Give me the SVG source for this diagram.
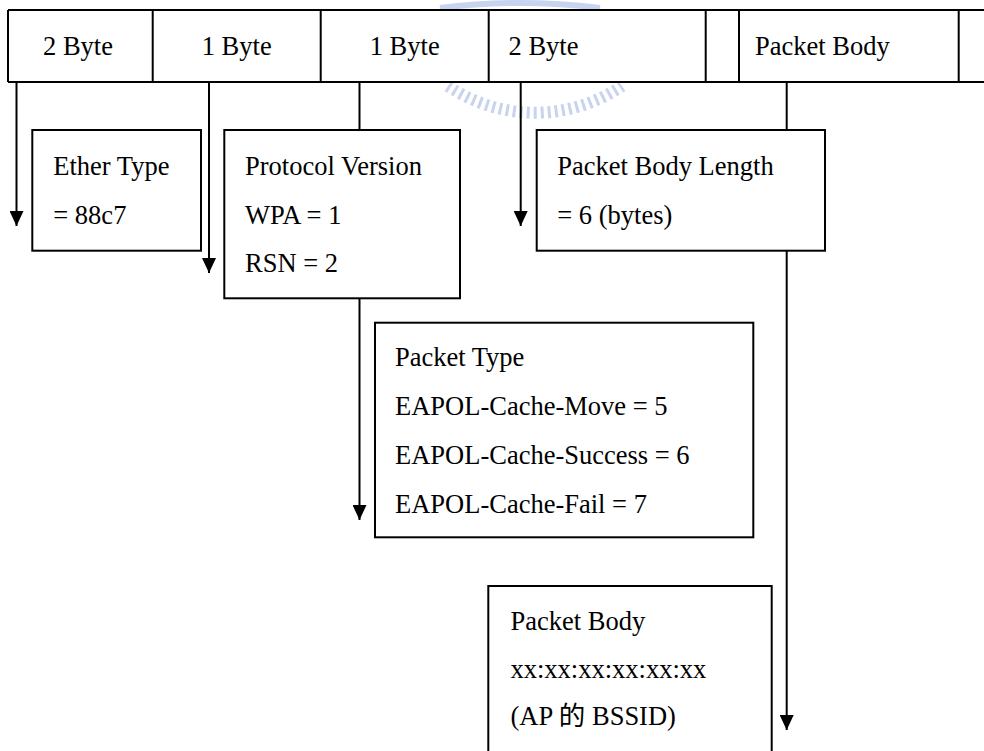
<svg xmlns="http://www.w3.org/2000/svg" width="984" height="751" viewBox="0 0 984 751">
<style>
.t{font-family:"Liberation Serif","Noto Sans CJK TC","Times New Roman",serif;font-size:26.5px;fill:#000}
.b{fill:#fff;stroke:#000;stroke-width:2}
.c{stroke:#000;stroke-width:2;fill:none}
.m{text-anchor:middle}
.w{fill:none;stroke:#b4c4ea;opacity:0.75}
</style>
<defs>
<marker id="arr" markerUnits="userSpaceOnUse" viewBox="0 0 15 14" refX="15" refY="7" markerWidth="15" markerHeight="14" orient="auto">
<path d="M0,0 L15,7 L0,14 z" fill="#000"/>
</marker>
</defs>
<rect width="984" height="751" fill="#fff"/>
<g id="watermark">
<path class="w" d="M448,86 A155,155 0 0 0 622,86" stroke-width="12" stroke-dasharray="3 4"/>
<path class="w" d="M440,8 Q520,-2 600,8" stroke-width="6"/>
</g>
<g id="header">
<rect x="8" y="10" width="980" height="72" fill="#fff"/>
<path class="c" d="M8,10 H986 M8,82 H986 M8,10 V82 M152.7,10 V82 M320.7,10 V82 M488.7,10 V82 M705.7,10 V82 M739,10 V82 M958.7,10 V82"/>
<text class="t m" x="78" y="55">2 Byte</text>
<text class="t m" x="236.7" y="55">1 Byte</text>
<text class="t m" x="404.7" y="55">1 Byte</text>
<text class="t" x="508.5" y="55">2 Byte</text>
<text class="t" x="755" y="55">Packet Body</text>
</g>
<g id="connectors">
<path class="c" d="M16.5,82 V226" marker-end="url(#arr)"/>
<path class="c" d="M209,82 V273" marker-end="url(#arr)"/>
<path class="c" d="M359.5,82 V130"/>
<path class="c" d="M359.5,298 V520" marker-end="url(#arr)"/>
<path class="c" d="M520.7,82 V226" marker-end="url(#arr)"/>
<path class="c" d="M786.7,82 V130"/>
<path class="c" d="M786.7,251 V730" marker-end="url(#arr)"/>
</g>
<g id="ether-type">
<rect class="b" x="32.3" y="130" width="168.7" height="120.7"/>
<text class="t" x="53.3" y="175">Ether Type</text>
<text class="t" x="53.3" y="223.5">= 88c7</text>
</g>
<g id="protocol-version">
<rect class="b" x="224.3" y="130" width="235.7" height="168.3"/>
<text class="t" x="245" y="175">Protocol Version</text>
<text class="t" x="245" y="223.5">WPA = 1</text>
<text class="t" x="245" y="272">RSN = 2</text>
</g>
<g id="packet-body-length">
<rect class="b" x="536.7" y="130" width="288.3" height="120.7"/>
<text class="t" x="557.3" y="175">Packet Body Length</text>
<text class="t" x="557.3" y="223.5">= 6 (bytes)</text>
</g>
<g id="packet-type">
<rect class="b" x="375" y="322.7" width="378.3" height="214.6"/>
<text class="t" x="395" y="366">Packet Type</text>
<text class="t" x="395" y="415">EAPOL-Cache-Move = 5</text>
<text class="t" x="395" y="464">EAPOL-Cache-Success = 6</text>
<text class="t" x="395" y="513">EAPOL-Cache-Fail = 7</text>
</g>
<g id="packet-body">
<rect class="b" x="488.3" y="586" width="283.4" height="180"/>
<text class="t" x="510.5" y="630">Packet Body</text>
<text class="t" x="510.5" y="677.5">xx:xx:xx:xx:xx:xx</text>
<text class="t" x="510.5" y="725">(AP 的 BSSID)</text>
</g>
</svg>
